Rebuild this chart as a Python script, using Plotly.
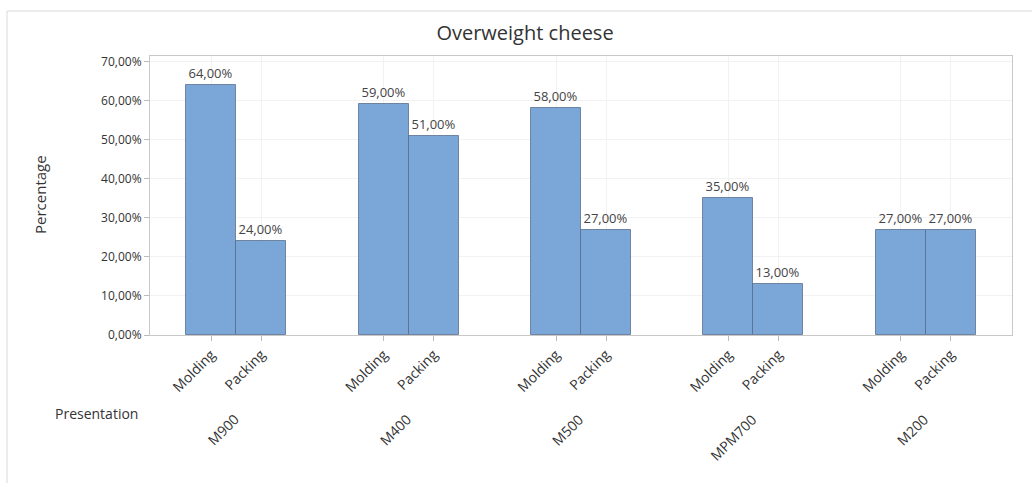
import plotly.graph_objects as go

presentations = ["M900", "M400", "M500", "MPM700", "M200"]
stages = ["Molding", "Packing"]
molding = [0.64, 0.59, 0.58, 0.35, 0.27]
packing = [0.24, 0.51, 0.27, 0.13, 0.27]

W, H = 1032, 483
ML, MR, MT, MB = 150, 20, 56, 148
pw, ph = W - ML - MR, H - MT - MB

bw = 0.29
off = 0.145
xm = [i - off for i in range(len(presentations))]
xp = [i + off for i in range(len(presentations))]

bar_color = "#7BA6D8"
line_color = "rgba(85,105,135,0.75)"

fig = go.Figure()
for xs, ys, name in [(xm, molding, stages[0]), (xp, packing, stages[1])]:
    fig.add_trace(go.Bar(
        x=xs, y=ys, width=bw, name=name,
        marker=dict(color=bar_color, line=dict(color=line_color, width=1)),
        texttemplate="%{y:.2%}", textposition="outside", cliponaxis=False,
        textfont=dict(size=13, color="#444444"),
        showlegend=False,
    ))

tickvals = []
ticktext = []
for i in range(len(presentations)):
    tickvals += [xm[i], xp[i]]
    ticktext += stages

def px_to_paper_x(px):
    return (px - ML) / pw

def px_to_paper_y(py):
    return (H - MB - py) / ph

annotations = []
for i, p in enumerate(presentations):
    annotations.append(dict(
        x=i + 0.055, y=px_to_paper_y(407), xref="x", yref="paper",
        text=p, textangle=-45, showarrow=False,
        xanchor="right", yanchor="top",
        font=dict(size=14, color="#333333"),
    ))
annotations.append(dict(
    x=px_to_paper_x(96), y=px_to_paper_y(414), xref="paper", yref="paper",
    text="Presentation", showarrow=False, xanchor="center", yanchor="middle",
    font=dict(size=14, color="#333333"),
))
annotations.append(dict(
    x=px_to_paper_x(40), y=px_to_paper_y(194), xref="paper", yref="paper",
    text="Percentage", textangle=-90, showarrow=False, xanchor="center", yanchor="middle",
    font=dict(size=15, color="#333333"),
))

fig.update_layout(
    width=W, height=H,
    margin=dict(l=ML, r=MR, t=MT, b=MB),
    paper_bgcolor="white", plot_bgcolor="white",
    separators=",.",
    font=dict(family="Open Sans", color="#333333"),
    title=dict(text="Overweight cheese", x=525 / W, xref="container", xanchor="center",
               y=1 - 33 / H, yref="container", yanchor="middle",
               font=dict(size=20, color="#333333")),
    barmode="overlay",
    bargap=0,
    annotations=annotations,
    shapes=[dict(type="rect", xref="paper", yref="paper",
                 x0=px_to_paper_x(7), x1=px_to_paper_x(1045),
                 y0=px_to_paper_y(495), y1=px_to_paper_y(11),
                 line=dict(color="#d9d9d9", width=1), fillcolor="rgba(0,0,0,0)",
                 layer="below")],
)

fig.update_xaxes(
    range=[-0.5, 4.5], tickvals=tickvals, ticktext=ticktext, tickangle=-45,
    showgrid=True, gridcolor="#f2f2f2", gridwidth=1,
    ticks="outside", ticklen=5, tickcolor="#bbbbbb",
    showline=True, linecolor="#c8c8c8", linewidth=1, mirror=True,
    tickfont=dict(size=14, color="#333333"), zeroline=False, automargin=False,
)
fig.update_yaxes(
    range=[0, 0.714], tickvals=[0, 0.1, 0.2, 0.3, 0.4, 0.5, 0.6, 0.7],
    tickformat=".2%",
    showgrid=True, gridcolor="#f2f2f2", gridwidth=1,
    ticks="outside", ticklen=5, tickcolor="#bbbbbb",
    showline=True, linecolor="#c8c8c8", linewidth=1, mirror=True,
    tickfont=dict(size=12, color="#333333"), zeroline=False, automargin=False,
)

fig.write_html("out.html")
